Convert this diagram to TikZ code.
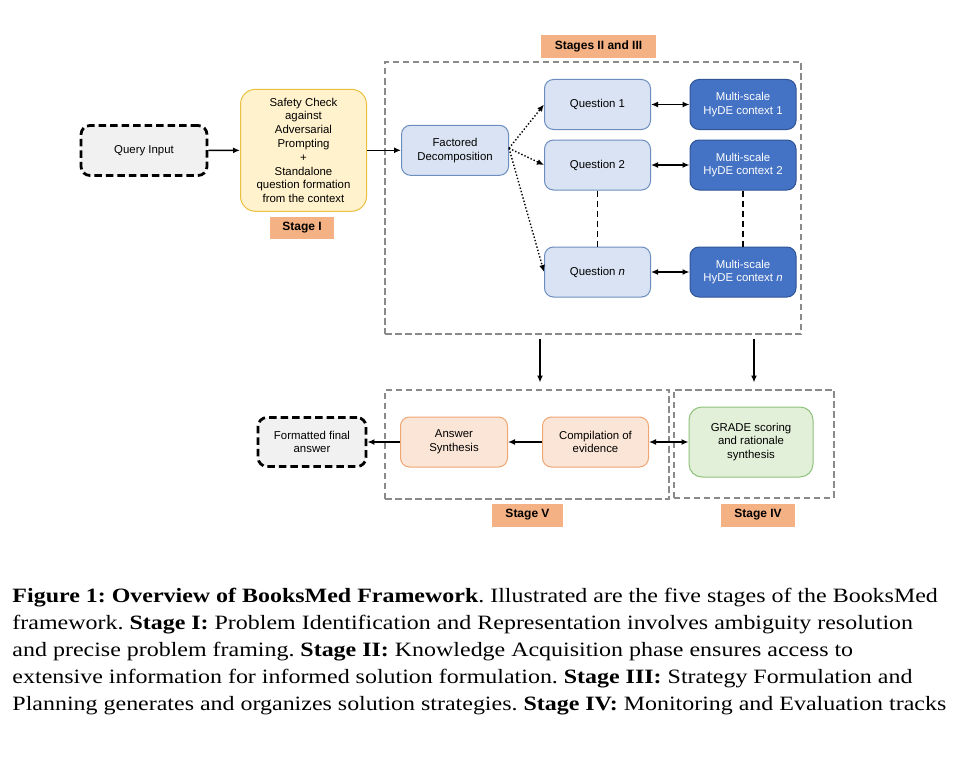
\documentclass[tikz,border=0pt]{standalone}
\usepackage{fontspec}
\setmainfont{Liberation Serif}
\setsansfont{Liberation Sans}
\usetikzlibrary{arrows.meta,positioning,calc}
\definecolor{grayfill}{HTML}{F1F1F1}
\definecolor{yelfill}{HTML}{FFF2CC}
\definecolor{yeldraw}{HTML}{EBC03F}
\definecolor{lbfill}{HTML}{DAE3F3}
\definecolor{lbdraw}{HTML}{6C8EBF}
\definecolor{dbfill}{HTML}{4472C4}
\definecolor{dbdraw}{HTML}{2F5597}
\definecolor{orfill}{HTML}{FBE5D6}
\definecolor{ordraw}{HTML}{F0A672}
\definecolor{grfill}{HTML}{E2F0D9}
\definecolor{grdraw}{HTML}{8FC27A}
\definecolor{lblfill}{HTML}{F4B183}
\definecolor{boxgray}{HTML}{8A8A8A}
\tikzset{
  base/.style={rounded corners=9pt, align=center, inner sep=0pt, line width=1pt,
    font=\sffamily\fontsize{11.4}{13.8}\selectfont},
  blackdash/.style={base, draw=black, fill=grayfill, line width=2.8pt, dash pattern=on 7.5pt off 4pt},
  yelbox/.style={base, draw=yeldraw, fill=yelfill, rounded corners=15pt},
  lbbox/.style={base, draw=lbdraw, fill=lbfill},
  dbbox/.style={base, draw=dbdraw, fill=dbfill, text=white},
  orbox/.style={base, draw=ordraw, fill=orfill},
  grbox/.style={base, draw=grdraw, fill=grfill, rounded corners=13pt},
  stagelbl/.style={fill=lblfill, inner sep=0pt, font=\sffamily\bfseries\fontsize{12}{14}\selectfont},
  groupbox/.style={draw=boxgray, line width=2pt, dash pattern=on 6.5pt off 3.5pt, inner sep=0pt},
  arr/.style={-{Latex[length=7pt,width=6pt]}, line width=1.4pt},
  darr/.style={{Latex[length=7pt,width=6pt]}-{Latex[length=7pt,width=6pt]}, line width=1.4pt},
  dotarr/.style={arr, dotted, line width=1.4pt},
  capline/.style={anchor=base west, inner sep=0pt, font=\fontsize{23.95}{27}\selectfont}
}
\begin{document}
\begin{tikzpicture}[x=1pt,y=-1pt]
\useasboundingbox (0,0) rectangle (959,760);
\fill[white] (0,0) rectangle (959,760);

% group boxes
\node[groupbox, minimum width=416pt, minimum height=272pt] (big) at (593,198) {};
\node[groupbox, minimum width=284pt, minimum height=109pt] (gV) at (527,444) {};
\node[groupbox, minimum width=160pt, minimum height=108pt] (gIV) at (753.5,443.5) {};

% stage labels
\node[stagelbl, minimum width=115pt, minimum height=23pt] (l23) at (598.5,46.5) {Stages II and III};
\node[stagelbl, minimum width=64pt, minimum height=22pt] (l1) at (302,227.5) {Stage I};
\node[stagelbl, minimum width=71pt, minimum height=23pt] (l5) at (527.5,515) {Stage V};
\node[stagelbl, minimum width=74pt, minimum height=23pt] (l4) at (758,515) {Stage IV};

% stage I
\node[blackdash, minimum width=126pt, minimum height=50pt] (query) at (144,150.5) {Query Input};
\node[yelbox, minimum width=126pt, minimum height=122pt] (safety) at (303.5,150.3)
  {Safety Check\\against\\Adversarial\\Prompting\\+\\Standalone\\question formation\\from the context};

% stage II/III
\node[lbbox, minimum width=107pt, minimum height=50pt] (fact) at (455,150.3) {Factored\\Decomposition};
\node[lbbox, minimum width=106pt, minimum height=50pt] (q1) at (597.5,104.5) {Question 1};
\node[lbbox, minimum width=106pt, minimum height=50pt] (q2) at (597.5,165) {Question 2};
\node[lbbox, minimum width=106pt, minimum height=50pt] (qn) at (597.5,272) {Question \textit{n}};
\node[dbbox, minimum width=106pt, minimum height=50pt] (m1) at (743,104.5) {Multi-scale\\HyDE context 1};
\node[dbbox, minimum width=106pt, minimum height=50pt] (m2) at (743,165) {Multi-scale\\HyDE context 2};
\node[dbbox, minimum width=106pt, minimum height=50pt] (mn) at (743,272) {Multi-scale\\HyDE context \textit{n}};

% stage V / IV
\node[blackdash, minimum width=108pt, minimum height=49pt] (final) at (312,442) {Formatted final\\answer};
\node[orbox, minimum width=107pt, minimum height=50pt] (ans) at (454,442) {Answer\\Synthesis};
\node[orbox, minimum width=106pt, minimum height=50pt] (comp) at (595.5,442) {Compilation of\\evidence};
\node[grbox, minimum width=124pt, minimum height=70pt] (grade) at (751,442) {GRADE scoring\\and rationale\\synthesis};

% connectors
\draw[arr] (query) -- (safety);
\draw[arr] (safety) -- (fact);
\coordinate (fo) at ($(fact.east)+(0,-2)$);
\draw[dotarr] (fo) -- (q1.west);
\draw[dotarr] (fo) -- (q2.west);
\draw[dotarr] (fo) -- (qn.west);
\draw[darr] (q1) -- (m1);
\draw[darr] (q2) -- (m2);
\draw[darr] (qn) -- (mn);
\draw[line width=1.5pt, dash pattern=on 6pt off 4pt] (q2.south) -- (qn.north);
\draw[line width=1.5pt, dash pattern=on 6pt off 4pt] (m2.south) -- (mn.north);
\coordinate (d1) at (540,0);
\coordinate (d2) at (754,0);
\draw[arr, shorten <=4pt, shorten >=6pt] (big.south -| d1) -- (gV.north -| d1);
\draw[arr, shorten <=4pt, shorten >=6pt] (big.south -| d2) -- (gIV.north -| d2);
\draw[arr] (comp) -- (ans);
\draw[arr] (ans) -- (final);
\draw[darr] (comp) -- (grade);

% caption
\node[capline] (c1) at (12.3,602.3) {\frenchspacing\scalebox{1}[0.85]{\textbf{Figure 1: Overview of BooksMed Framework}. Illustrated are the five stages of the BooksMed}};
\node[capline] (c2) at (12.3,629.4) {\frenchspacing\scalebox{1}[0.85]{framework. \textbf{Stage I:} Problem Identification and Representation involves ambiguity resolution}};
\node[capline] (c3) at (12.3,656.5) {\frenchspacing\scalebox{1}[0.85]{and precise problem framing. \textbf{Stage II:} Knowledge Acquisition phase ensures access to}};
\node[capline] (c4) at (12.3,683.6) {\frenchspacing\scalebox{1}[0.85]{extensive information for informed solution formulation. \textbf{Stage III:} Strategy Formulation and}};
\node[capline] (c5) at (12.3,710.7) {\frenchspacing\scalebox{1}[0.85]{Planning generates and organizes solution strategies. \textbf{Stage IV:} Monitoring and Evaluation tracks}};
\end{tikzpicture}
\end{document}
